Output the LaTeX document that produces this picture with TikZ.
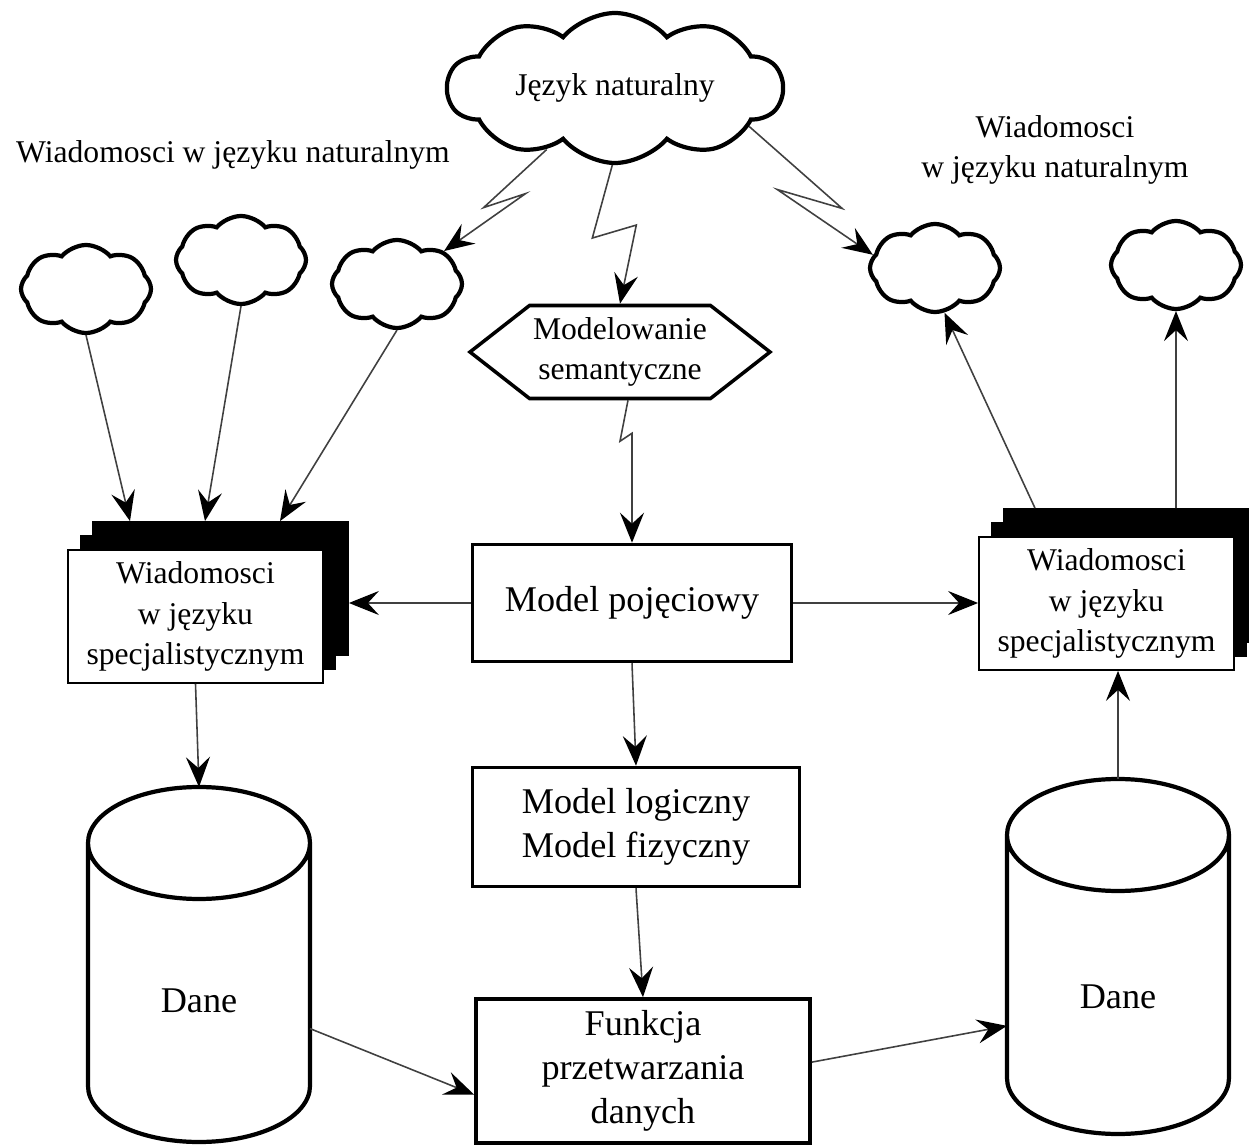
\documentclass[tikz,border=0pt]{standalone}
\usepackage{fontspec}
\setmainfont{Liberation Serif}
\usetikzlibrary{arrows.meta,shapes.geometric,shapes.symbols,shadows,calc}

% cylinder outline drawn round a named node
\newcommand{\walec}[1]{%
  \draw[line width=1.2pt] ([yshift=-0.56cm]#1.north west) -- ([yshift=0.56cm]#1.south west)
    arc[start angle=180,end angle=360,x radius=1.11cm,y radius=0.56cm]
    -- ([yshift=-0.56cm]#1.north east)
    arc[start angle=0,end angle=360,x radius=1.11cm,y radius=0.56cm];}

\begin{document}
\begin{tikzpicture}[
  small/.style={font=\fontsize{9}{11.4}\selectfont},
  big/.style={font=\fontsize{10.3}{12.6}\selectfont},
  chmurka/.style={cloud,draw,line width=1.2pt,cloud puffs=8,cloud puff arc=100,cloud ignores aspect,
    minimum width=1.3cm,minimum height=0.88cm,inner sep=0pt},
  model/.style={draw,line width=1pt,align=center,big,inner sep=0pt},
  dok/.style={draw,fill=white,line width=0.5pt,align=center,small,minimum width=2.55cm,minimum height=1.33cm,inner sep=0pt,
    double copy shadow={shadow xshift=0.125cm,shadow yshift=0.14cm,fill=black,draw=black}},
  baza/.style={inner sep=0pt,outer sep=0pt,minimum width=2.22cm,minimum height=3.55cm},
  conn/.style={draw=black!75,line width=0.45pt,-{Stealth[length=3mm,width=2.4mm,inset=1.1mm,black,line width=0.6pt]}},
]
\useasboundingbox (0,0) rectangle (12.49,11.45);

% clouds
\node[chmurka,small,cloud puffs=10,minimum width=3.35cm,minimum height=1.5cm] (jezyk) at (6.15,10.57) {Język naturalny};
\node[chmurka] (c1) at (0.86,8.56) {};
\node[chmurka] (c2) at (2.41,8.85) {};
\node[chmurka] (c3) at (3.97,8.61) {};
\node[chmurka] (c4) at (9.35,8.77) {};
\node[chmurka] (c5) at (11.76,8.80) {};

\node[small] (lab1) at (2.33,9.90) {Wiadomosci w języku naturalnym};
\node[small,align=center] (lab2) at (10.55,9.95) {Wiadomosci\\w języku naturalnym};

% middle column
\node[draw,line width=1pt,signal,signal to=west and east,signal pointer angle=76,minimum width=3cm,minimum height=0.93cm,
  inner sep=0pt,small,align=center] (sem) at (6.20,7.93) {Modelowanie\\semantyczne};
\node[model,minimum width=3.19cm,minimum height=1.17cm] (pojeciowy) at (6.32,5.42) {Model pojęciowy};
\node[model,minimum width=3.27cm,minimum height=1.19cm] (logiczny) at (6.36,3.18) {Model logiczny\\Model fizyczny};
\node[model,minimum width=3.34cm,minimum height=1.44cm] (funkcja) at (6.43,0.74) {Funkcja\\przetwarzania\\danych};

% documents
\node[dok] (ldoc) at (1.955,5.285) {Wiadomosci\\w języku\\specjalistycznym};
\node[dok] (rdoc) at (11.065,5.415) {Wiadomosci\\w języku\\specjalistycznym};

% data stores
\node[baza] (dane1) at (1.99,1.805) {};
\node[baza] (dane2) at (11.18,1.885) {};
\walec{dane1}
\walec{dane2}
\node[big] (dane1txt) at ([yshift=-0.36cm]dane1.center) {Dane};
\node[big] (dane2txt) at ([yshift=-0.40cm]dane2.center) {Dane};

% lightning connectors
\draw[conn] (jezyk.222) -- ++(-0.63,-0.58) -- ++(0.42,0.14) -- (c3.35);
\draw[conn] (jezyk.268) -- ++(-0.2,-0.73) -- ++(0.44,0.13) -- (sem.north);
\draw[conn] (jezyk.-16) -- ++(0.93,-0.82) -- ++(-0.65,0.19) -- (c4.168);
\draw[conn] ([xshift=0.08cm]sem.south) -- ++(-0.08,-0.41) -- ++(0.12,0.08) -- (pojeciowy.north);

% left side
\draw[conn] (c1.south) -- ([xshift=-0.655cm,yshift=0.28cm]ldoc.north);
\draw[conn] (c2.south) -- ([xshift=0.095cm,yshift=0.28cm]ldoc.north);
\draw[conn] (c3.south) -- ([xshift=0.845cm,yshift=0.28cm]ldoc.north);
\coordinate (ledge) at ([xshift=0.25cm]ldoc.east);
\draw[conn] (pojeciowy.west) -- (pojeciowy.west -| ledge);
\draw[conn] (ldoc.south) -- (dane1.north);
\draw[conn] (dane1.-30) -- (funkcja.188);

% right side
\draw[conn] (pojeciowy.east) -- (pojeciowy.east -| rdoc.west);
\draw[conn] ([xshift=-0.715cm,yshift=0.28cm]rdoc.north) -- (c4.282);
\draw[conn] ([xshift=0.695cm,yshift=0.28cm]rdoc.north) -- (c5.south);
\draw[conn] (dane2.north) -- (dane2.north |- rdoc.south);
\draw[conn] (funkcja.3) -- (dane2.212);

% middle column
\draw[conn] (pojeciowy.south) -- (logiczny.north);
\draw[conn] (logiczny.south) -- (funkcja.north);
\end{tikzpicture}
\end{document}
